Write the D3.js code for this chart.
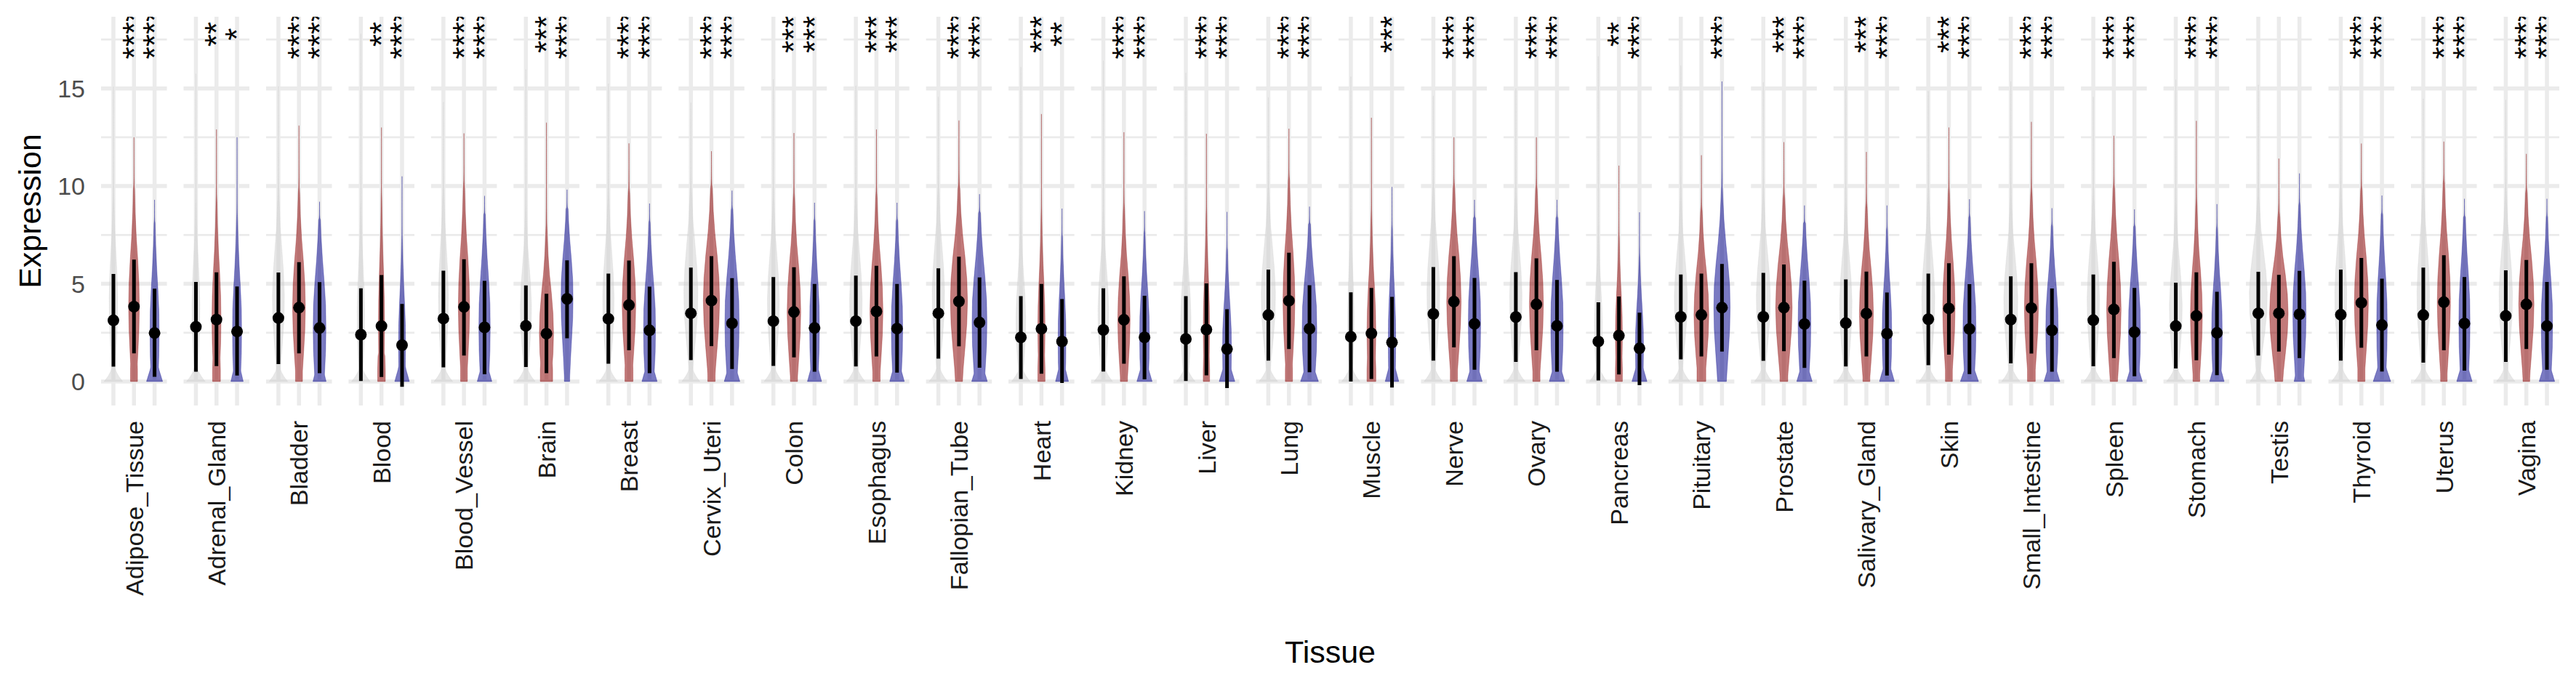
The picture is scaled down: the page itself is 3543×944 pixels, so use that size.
<!DOCTYPE html>
<html><head><meta charset="utf-8">
<script src="https://cdn.jsdelivr.net/npm/d3@7"></script>
<style>body{margin:0;background:#fff}svg{display:block}</style>
</head><body>
<svg id="chart" width="3543" height="944"></svg>
<script>
// ---------------- DATA ----------------
const tissues = ["Adipose_Tissue","Adrenal_Gland","Bladder","Blood","Blood_Vessel","Brain","Breast","Cervix_Uteri","Colon","Esophagus","Fallopian_Tube","Heart","Kidney","Liver","Lung","Muscle","Nerve","Ovary","Pancreas","Pituitary","Prostate","Salivary_Gland","Skin","Small_Intestine","Spleen","Stomach","Testis","Thyroid","Uterus","Vagina"];
const groups = ["Reference","GroupA","GroupB"];

// grey group
const greyMean = [3.13,2.80,3.25,2.40,3.22,2.85,3.21,3.49,3.09,3.09,3.49,2.26,2.64,2.18,3.40,2.29,3.46,3.30,2.05,3.31,3.31,2.99,3.19,3.17,3.14,2.84,3.49,3.42,3.40,3.36];
const greyLo   = [0.76,0.50,0.89,0.03,0.73,0.74,0.91,1.10,0.80,0.77,1.17,0.13,0.51,0.03,1.07,0.00,1.07,1.00,0.06,1.13,1.06,0.77,0.84,0.93,0.78,0.67,1.33,1.07,0.97,1.00];
const greyHi   = [5.50,5.10,5.58,4.77,5.67,4.92,5.52,5.83,5.35,5.42,5.79,4.37,4.77,4.37,5.73,4.57,5.86,5.60,4.05,5.48,5.56,5.23,5.52,5.38,5.48,5.06,5.62,5.73,5.83,5.69];
const greyTop  = [15.1,15.75,15.1,17.8,14.3,15.97,15.24,14.26,15.47,15.14,14.57,16.09,16.42,15.8,14.54,15.6,14.62,15.0,16.64,16.18,15.31,15.11,14.86,15.36,14.57,15.45,15.18,15.14,14.47,14.41];
// red group
const redMean = [3.83,3.17,3.78,2.84,3.82,2.45,3.91,4.14,3.56,3.59,4.10,2.70,3.16,2.66,4.13,2.46,4.09,3.95,2.35,3.41,3.78,3.48,3.74,3.76,3.69,3.36,3.49,4.03,4.06,3.95];
const redLo   = [1.44,0.79,1.44,0.23,1.33,0.43,1.60,1.81,1.24,1.28,1.80,0.40,0.91,0.32,1.66,0.13,1.75,1.60,0.36,1.28,1.55,1.28,1.38,1.43,1.20,1.09,1.53,1.73,1.60,1.66];
const redHi   = [6.24,5.59,6.11,5.45,6.26,4.49,6.19,6.42,5.85,5.92,6.39,4.99,5.38,5.02,6.59,4.79,6.42,6.30,4.35,5.52,5.99,5.63,6.05,6.05,6.13,5.59,5.46,6.32,6.46,6.22];
const redTop  = [12.5,12.9,13.1,13.0,12.7,13.25,12.19,11.79,12.72,12.9,13.36,13.69,12.76,12.68,12.94,13.5,12.5,12.5,11.05,11.58,12.25,11.75,13.0,13.29,12.58,13.34,11.41,12.18,12.28,11.65];
// blue group
const blueMean = [2.48,2.56,2.74,1.86,2.77,4.23,2.62,2.98,2.74,2.71,3.02,2.05,2.26,1.66,2.70,2.00,2.95,2.85,1.70,3.78,2.94,2.45,2.69,2.62,2.53,2.49,3.44,2.89,2.97,2.84];
const blueLo   = [0.24,0.31,0.43,-0.27,0.37,2.21,0.43,0.64,0.50,0.46,0.71,-0.07,0.11,-0.33,0.47,-0.31,0.60,0.50,-0.19,1.53,0.70,0.31,0.38,0.50,0.27,0.33,1.20,0.51,0.56,0.60];
const blueHi   = [4.75,4.86,5.09,3.97,5.15,6.20,4.85,5.29,4.99,4.99,5.33,4.22,4.39,3.70,4.93,4.33,5.30,5.20,3.52,6.02,5.16,4.56,4.98,4.76,4.79,4.59,5.66,5.26,5.35,5.10];
const blueTop  = [9.3,12.5,9.2,10.5,9.5,9.82,9.11,9.77,9.15,9.15,9.59,8.85,8.72,8.68,8.95,9.96,9.3,9.3,8.66,15.36,9.01,9.01,9.33,8.87,8.81,9.08,10.65,9.52,9.35,9.35];

// significance labels (vs grey group)
const redStars  = ["****","**","****","**","****","***","****","****","***","***","****","***","****","****","****","","****","****","**","","***","***","***","****","****","****","","****","****","****"];
const blueStars = ["****","*","****","****","****","****","****","****","***","***","****","**","****","****","****","***","****","****","****","****","****","****","****","****","****","****","","****","****","****"];

// violin widths (fraction of group spacing): width at 0, width of main bulge
const greyBaseW = [.9,.9,.9,.9,.9,.9,.9,.87,.9,.9,.9,.9,.9,.9,.9,.88,.9,.9,.85,.89,.85,.87,.89,.89,.9,.9,.8,.9,.9,.9];
const greyBodyW = [.41,.38,.58,.36,.48,.54,.55,.68,.58,.61,.6,.47,.52,.5,.69,.31,.62,.6,.38,.63,.68,.6,.63,.68,.6,.62,.87,.58,.61,.65];
const redBaseW  = [.34,.38,.34,.37,.33,.6,.39,.36,.35,.36,.35,.35,.35,.31,.35,.43,.35,.35,.34,.43,.38,.34,.34,.38,.36,.33,.33,.35,.32,.33];
const redBodyW  = [.52,.44,.62,.3,.55,.69,.66,.79,.66,.63,.83,.35,.6,.31,.58,.43,.7,.68,.34,.72,.8,.68,.6,.68,.7,.58,.9,.68,.64,.74];
const blueBaseW = [.78,.6,.64,.71,.71,.24,.74,.76,.69,.71,.76,.63,.74,.76,.87,.66,.75,.75,.73,.41,.75,.73,.88,.77,.77,.7,.52,.85,.75,.75];
const blueBodyW = [.44,.44,.62,.34,.55,.58,.58,.69,.47,.55,.72,.38,.47,.43,.71,.36,.6,.6,.39,.79,.62,.46,.63,.6,.58,.51,.64,.51,.54,.55];

// violin outline templates
const baseProfiles = {
  Reference: [[0,1],[0.25,0.6],[0.5,0.3],[0.8,0.12],[1.2,0]],
  GroupA:    [[0,1],[0.6,1],[1.3,0.9],[2.2,0]],
  GroupB:    [[0,1],[0.3,0.78],[0.6,0.55],[1.0,0.35],[1.5,0.1],[2.0,0]]
};
const bodyProfiles = { // z = (v-mean)/sd
  Reference: [[-2,0.1],[-1.5,0.2],[-1,0.38],[-0.5,0.7],[0,0.95],[0.5,1],[1,0.85],[1.5,0.58],[2,0.3],[2.5,0.15]],
  GroupA:    [[-2,0.35],[-1.5,0.5],[-1,0.72],[-0.5,0.92],[0,1],[0.5,0.92],[1,0.7],[1.5,0.42],[2,0.22],[2.5,0.11]],
  GroupB:    [[-2,0.45],[-1.5,0.6],[-1,0.78],[-0.5,0.95],[0,1],[0.5,0.95],[1,0.73],[1.5,0.46],[2,0.24],[2.5,0.11]]
};
const tailProfile = [[0,1],[0.1,0.45],[0.25,0.2],[0.5,0.08],[0.75,0.03],[1,0.01]];

const yTicksMajor = [0,5,10,15];
const yTicksMinor = [2.5,7.5,12.5,17.5];

// ---------------- LAYOUT ----------------
const W = 3543, H = 944;
const pLeft = 139, pRight = 3520, pTop = 23, pBottom = 558;
const gap = 22.9;
const n = tissues.length;
const pw = (pRight - pLeft - gap*(n-1))/n;
const colors = {Reference:"#d0d0d0", GroupA:"#8b0000", GroupB:"#00008b"};
const fillOp = {Reference:0.5, GroupA:0.52, GroupB:0.52};
const FONT = "'Liberation Sans', Arial, Helvetica, sans-serif";

const svg = d3.select("#chart");
svg.append("rect").attr("width",W).attr("height",H).attr("fill","#fff");

const fx = d3.scaleBand().domain(tissues).range([pLeft,pRight]).paddingInner(gap/(pw+gap)).paddingOuter(0);
const xg = d3.scalePoint().domain(groups).range([0, fx.bandwidth()]).padding(0.6);
const unit = xg.step();
const y = d3.scaleLinear().domain([-1.227, 18.67]).range([pBottom, pTop]);

const data = {
  Reference: {mean:greyMean, lo:greyLo, hi:greyHi, top:greyTop, base:greyBaseW, body:greyBodyW, stars:null},
  GroupA:    {mean:redMean, lo:redLo, hi:redHi, top:redTop, base:redBaseW, body:redBodyW, stars:redStars},
  GroupB:    {mean:blueMean, lo:blueLo, hi:blueHi, top:blueTop, base:blueBaseW, body:blueBodyW, stars:blueStars}
};

function interp(pts, x){
  if (x <= pts[0][0]) return pts[0][1];
  for (let i=1;i<pts.length;i++){
    if (x <= pts[i][0]){
      const t = (x-pts[i-1][0])/(pts[i][0]-pts[i-1][0]);
      return pts[i-1][1] + t*(pts[i][1]-pts[i-1][1]);
    }
  }
  return pts[pts.length-1][1];
}
function violinOutline(g, i){
  const d = data[g];
  const m = d.mean[i], s = (d.hi[i]-d.lo[i])/2, tp = d.top[i];
  const bp = baseProfiles[g], bz = bodyProfiles[g];
  let vEnd = m + 2.5*s; if (vEnd > tp*0.9) vEnd = tp*0.9;
  const endW = interp(bz, 2.5);
  const pts = [];
  const N = 220;
  for (let k=0;k<=N;k++){
    const v = tp*k/N;
    const base = v <= bp[bp.length-1][0] ? d.base[i]*interp(bp, v) : 0;
    let body;
    if (v <= vEnd) body = d.body[i]*interp(bz, (v-m)/s);
    else body = d.body[i]*endW*interp(tailProfile, (v-vEnd)/(tp-vEnd));
    pts.push({v, w: Math.max(base, body)});
  }
  return pts;
}

const defs = svg.append("defs");
tissues.forEach((t,i)=>{
  defs.append("clipPath").attr("id","clip"+i).append("rect")
    .attr("x",fx(t)).attr("y",pTop).attr("width",fx.bandwidth()).attr("height",pBottom-pTop);
});

// panels
tissues.forEach((t,i)=>{
  const px = fx(t);
  const p = svg.append("g");
  const grid = p.append("g");
  yTicksMinor.forEach(v=>{
    grid.append("line").attr("x1",px).attr("x2",px+fx.bandwidth()).attr("y1",y(v)).attr("y2",y(v))
      .attr("stroke","#ebebeb").attr("stroke-width",2.8);
  });
  yTicksMajor.forEach(v=>{
    grid.append("line").attr("x1",px).attr("x2",px+fx.bandwidth()).attr("y1",y(v)).attr("y2",y(v))
      .attr("stroke","#ebebeb").attr("stroke-width",5.5);
  });
  groups.forEach(g=>{
    grid.append("line").attr("x1",px+xg(g)).attr("x2",px+xg(g)).attr("y1",pTop).attr("y2",pBottom)
      .attr("stroke","#ebebeb").attr("stroke-width",5.5);
  });

  const body = p.append("g").attr("clip-path",`url(#clip${i})`);
  groups.forEach(g=>{
    const cx = px + xg(g);
    const pts = violinOutline(g,i);
    const area = d3.area().y(d=>y(d.v)).x0(d=>cx - d.w*unit/2).x1(d=>cx + d.w*unit/2).curve(d3.curveBasis);
    body.append("path").attr("d",area(pts)).attr("fill",colors[g]).attr("fill-opacity",fillOp[g])
      .attr("stroke",colors[g]).attr("stroke-opacity",fillOp[g]*0.8).attr("stroke-width",0.8);
  });
  groups.forEach(g=>{
    const cx = px + xg(g), d = data[g];
    body.append("line").attr("x1",cx).attr("x2",cx).attr("y1",y(d.lo[i])).attr("y2",y(d.hi[i]))
      .attr("stroke","#000").attr("stroke-width",5);
    body.append("circle").attr("cx",cx).attr("cy",y(d.mean[i])).attr("r",8).attr("fill","#000");
    if (d.stars && d.stars[i]){
      body.append("text").attr("transform",`translate(${cx},${y(17.77)}) rotate(-90)`)
        .attr("text-anchor","middle").attr("dy","0.35em")
        .attr("font-family",FONT).attr("font-size",44).attr("fill","#000").text(d.stars[i]);
    }
  });

  // tissue label
  svg.append("text").attr("transform",`translate(${px+fx.bandwidth()/2},579) rotate(-90)`)
    .attr("text-anchor","end").attr("dy","0.36em")
    .attr("font-family",FONT).attr("font-size",34).attr("fill","#1a1a1a").text(t);
});

// y axis tick labels
yTicksMajor.forEach(v=>{
  svg.append("text").attr("x",117).attr("y",y(v)).attr("dy","0.36em").attr("text-anchor","end")
    .attr("font-family",FONT).attr("font-size",34).attr("fill","#4d4d4d").text(v);
});
// axis titles
svg.append("text").attr("x",(pLeft+pRight)/2).attr("y",912).attr("text-anchor","middle")
  .attr("font-family",FONT).attr("font-size",43).attr("fill","#000").text("Tissue");
svg.append("text").attr("transform",`translate(56,${(pTop+pBottom)/2}) rotate(-90)`).attr("text-anchor","middle")
  .attr("font-family",FONT).attr("font-size",43).attr("fill","#000").text("Expression");
</script>
</body></html>
